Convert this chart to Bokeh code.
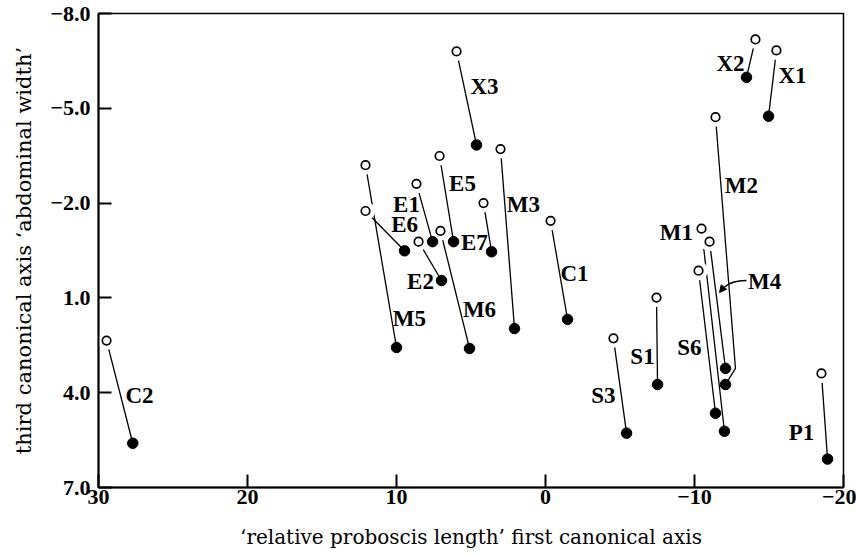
from bokeh.plotting import figure
from bokeh.models import Range1d, FixedTicker, ColumnDataSource, Arrow, NormalHead
from bokeh.core.properties import value
from bokeh.embed import file_html
from bokeh.resources import INLINE

# ---- data ----
ids = ["C2", "M5", "E6", "E1", "E2", "M6", "E5", "E7", "X3", "M3",
       "C1", "S3", "S1", "S6", "M1", "M4", "M2", "X2", "X1", "P1"]
open_x = [29.46, 12.08, 12.08, 8.66, 8.52, 7.05, 7.11, 4.16, 5.97, 3.02,
          -0.34, -4.56, -7.45, -10.27, -10.47, -11.01, -11.41, -14.09, -15.50, -18.52]
open_y = [2.35, -3.20, -1.75, -2.61, -0.78, -1.12, -3.49, -2.00, -6.80, -3.71,
          -1.44, 2.28, 0.99, 0.14, -1.19, -0.78, -4.72, -7.18, -6.83, 3.39]
fill_x = [27.70, 10.00, 9.46, 7.58, 6.98, 5.10, 6.17, 3.62, 4.63, 2.08,
          -1.48, -5.44, -7.52, -11.41, -12.01, -12.08, -12.08, -13.49, -14.97, -18.93]
fill_y = [5.60, 2.57, -0.49, -0.78, 0.45, 2.60, -0.78, -0.46, -3.84, 1.97,
          1.68, 5.28, 3.74, 4.65, 5.22, 3.23, 3.74, -5.98, -4.75, 6.10]
# leader-line elbow for M2
elbow = {"M2": (-12.75, 3.23)}

# label anchor points (data coords)
label_text = ["X3", "X2", "X1", "M2", "M1", "M4", "S6", "S1", "S3", "P1",
              "C1", "C2", "M5", "M6", "M3", "E5", "E1", "E6", "E7", "E2"]
label_x = [4.09, -12.42, -16.58, -13.15, -8.79, -14.70, -9.66, -6.51, -3.89, -17.18,
           -1.95, 27.25, 9.13, 4.43, 1.48, 5.57, 9.33, 9.46, 4.77, 8.39]
label_y = [-5.70, -6.42, -6.04, -2.57, -1.06, 0.49, 2.57, 2.85, 4.08, 5.25,
           0.23, 4.08, 1.65, 1.37, -1.94, -2.61, -1.94, -1.31, -0.74, 0.49]

x_ticks = [30, 20, 10, 0, -10, -20]
x_tick_labels = ["30", "20", "10", "0", "\u221210", "\u221220"]
y_ticks = [-8, -5, -2, 1, 4, 7]
y_tick_labels = ["\u22128.0", "\u22125.0", "\u22122.0", "1.0", "4.0", "7.0"]

SERIF = "Liberation Serif"

p = figure(width=856, height=554, output_backend="svg", toolbar_location=None,
           x_range=Range1d(30, -20), y_range=Range1d(7, -8),
           min_border_left=98, min_border_right=13, min_border_top=13,
           min_border_bottom=67)
p.grid.visible = False
p.outline_line_color = "black"
p.outline_line_width = 1.5
p.background_fill_color = "white"
p.border_fill_color = "white"

for ax in (p.xaxis[0], p.yaxis[0]):
    ax.axis_line_width = 2
    ax.axis_line_color = "black"
    ax.major_tick_in = 13
    ax.major_tick_out = 0
    ax.major_tick_line_width = 2
    ax.minor_tick_line_color = None
    ax.major_label_text_font = SERIF
    ax.major_label_text_font_style = "bold"
    ax.major_label_text_font_size = "22px"
    ax.major_label_text_color = "black"
    ax.axis_label_text_font = "DejaVu Serif"
    ax.axis_label_text_font_style = "normal"
    ax.axis_label_text_color = "black"

p.xaxis[0].ticker = FixedTicker(ticks=x_ticks)
p.xaxis[0].major_label_overrides = dict(zip(x_ticks, x_tick_labels))
p.xaxis[0].major_label_standoff = 2
p.xaxis[0].axis_label = "\u2018relative proboscis length\u2019 first canonical axis"
p.xaxis[0].axis_label_text_font_size = "20px"
p.xaxis[0].axis_label_standoff = 18

p.yaxis[0].ticker = FixedTicker(ticks=y_ticks)
p.yaxis[0].major_label_overrides = dict(zip(y_ticks, y_tick_labels))
p.yaxis[0].major_label_standoff = 8
p.yaxis[0].axis_label = "third canonical axis \u2018abdominal width\u2019"
p.yaxis[0].axis_label_text_font_size = "21px"
p.yaxis[0].axis_label_standoff = 11

# connecting lines
xs, ys = [], []
for i, name in enumerate(ids):
    if name in elbow:
        ex, ey = elbow[name]
        xs.append([open_x[i], ex, fill_x[i]])
        ys.append([open_y[i], ey, fill_y[i]])
    else:
        xs.append([open_x[i], fill_x[i]])
        ys.append([open_y[i], fill_y[i]])
p.multi_line(xs=xs, ys=ys, line_color="black", line_width=1.3)

src = ColumnDataSource(dict(ox=open_x, oy=open_y, fx=fill_x, fy=fill_y))
# white halo around open circles (lines stop short of them)
p.scatter("ox", "oy", source=src, size=19, fill_color="white", line_color=None)
p.scatter("ox", "oy", source=src, size=8.5, fill_color="white", line_color="black",
          line_width=1.7)
p.scatter("fx", "fy", source=src, size=10.5, fill_color="black", line_color="black")

# M4 pointer
p.bezier(x0=[-13.49], y0=[0.45], x1=[-11.75], y1=[0.80], cx0=[-12.55], cy0=[0.45],
         cx1=[-12.0], cy1=[0.62], line_color="black", line_width=1.3)
p.add_layout(Arrow(end=NormalHead(size=7, fill_color="black", line_color="black"),
                   x_start=-11.9, y_start=0.70, x_end=-11.68, y_end=0.83,
                   line_color="black", line_width=1.3))

lab = ColumnDataSource(dict(x=label_x, y=label_y, t=label_text))
p.text("x", "y", text="t", source=lab, text_font=value(SERIF),
       text_font_style="bold", text_font_size="23px", text_color="black",
       text_align="center", text_baseline="middle")

open("out.html", "w").write(file_html(p, INLINE))
